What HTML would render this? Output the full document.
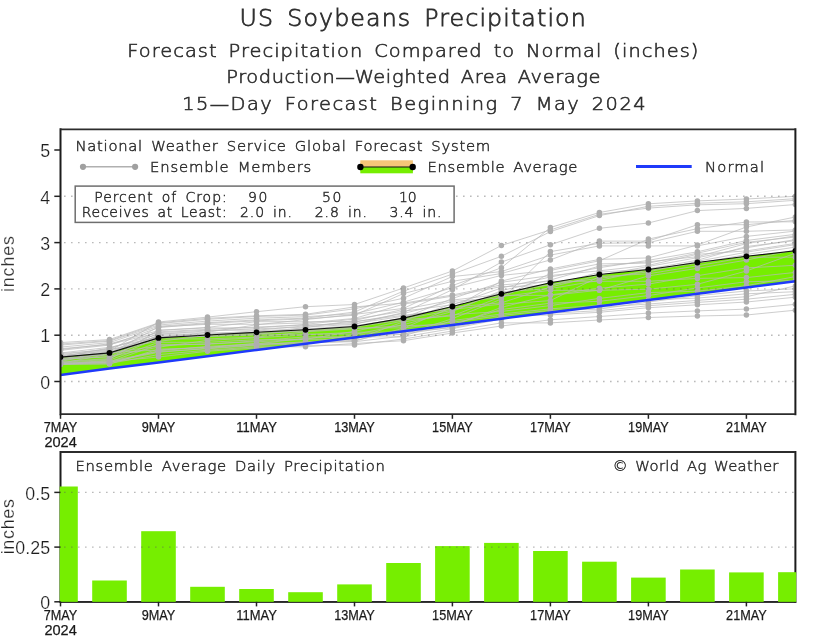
<!DOCTYPE html>
<html lang="en"><head><meta charset="utf-8"><title>US Soybeans Precipitation</title>
<style>html,body{margin:0;padding:0;background:#fff}svg{display:block}text{white-space:pre}</style></head>
<body>
<svg width="820" height="639" viewBox="0 0 820 639">
<rect width="820" height="639" fill="#fff"/>
<text transform="translate(239.6,26.3) scale(1.06,1)" font-family="'DejaVu Sans Light','DejaVu Sans','Liberation Sans',sans-serif" font-weight="200" font-size="22.4" text-anchor="start" fill="#2e2e2e" stroke="#2e2e2e" stroke-width="0.75" textLength="326.6" lengthAdjust="spacing" word-spacing="-2.02" xml:space="preserve">US  Soybeans  Precipitation</text>
<text transform="translate(127.3,56.7) scale(1.06,1)" font-family="'DejaVu Sans Light','DejaVu Sans','Liberation Sans',sans-serif" font-weight="200" font-size="18.3" text-anchor="start" fill="#2e2e2e" stroke="#2e2e2e" stroke-width="0.6" textLength="538.8" lengthAdjust="spacing" word-spacing="-1.65" xml:space="preserve">Forecast  Precipitation  Compared  to  Normal  (inches)</text>
<text transform="translate(226.2,83.4) scale(1.06,1)" font-family="'DejaVu Sans Light','DejaVu Sans','Liberation Sans',sans-serif" font-weight="200" font-size="18.3" text-anchor="start" fill="#2e2e2e" stroke="#2e2e2e" stroke-width="0.6" textLength="353.1" lengthAdjust="spacing" word-spacing="-1.65" xml:space="preserve">Production—Weighted  Area  Average</text>
<text transform="translate(182.2,109.8) scale(1.06,1)" font-family="'DejaVu Sans Light','DejaVu Sans','Liberation Sans',sans-serif" font-weight="200" font-size="18.3" text-anchor="start" fill="#2e2e2e" stroke="#2e2e2e" stroke-width="0.6" textLength="437.1" lengthAdjust="spacing" word-spacing="-1.65" xml:space="preserve">15—Day  Forecast  Beginning  7  May  2024</text>
<clipPath id="ct"><rect x="60.5" y="129.3" width="734.9" height="284.9"/></clipPath>
<g clip-path="url(#ct)">
<polygon points="60.5,357.1 109.5,352.9 158.5,337.9 207.5,335.0 256.5,332.3 305.5,329.8 354.5,326.5 403.5,318.1 452.4,306.5 501.4,293.8 550.4,282.8 599.4,274.5 648.4,269.5 697.4,262.5 746.4,256.3 795.4,250.8 795.4,281.3 746.4,287.5 697.4,293.7 648.4,300.0 599.4,306.2 550.4,312.5 501.4,318.7 452.4,324.9 403.5,331.2 354.5,337.4 305.5,343.7 256.5,349.9 207.5,356.2 158.5,362.4 109.5,368.6 60.5,374.9" fill="#76ee00"/>
<polyline points="60.5,362.5 109.5,359.3 158.5,330.1 207.5,327.9 256.5,327.9 305.5,324.3 354.5,319.1 403.5,311.2 452.4,304.8 501.4,288.0 550.4,277.0 599.4,267.7 648.4,260.3 697.4,251.8 746.4,240.5 795.4,234.3" fill="none" stroke="#b9b9b9" stroke-width="0.9" stroke-opacity="0.8"/>
<polyline points="60.5,364.1 109.5,362.6 158.5,350.8 207.5,346.4 256.5,343.9 305.5,338.2 354.5,337.0 403.5,334.3 452.4,318.7 501.4,299.1 550.4,251.6 599.4,243.3 648.4,242.7 697.4,231.3 746.4,231.3 795.4,229.9" fill="none" stroke="#b9b9b9" stroke-width="0.9" stroke-opacity="0.8"/>
<polyline points="60.5,363.8 109.5,362.0 158.5,344.4 207.5,344.4 256.5,340.8 305.5,336.9 354.5,336.9 403.5,336.9 452.4,328.6 501.4,319.1 550.4,312.0 599.4,307.3 648.4,304.0 697.4,300.4 746.4,296.7 795.4,285.9" fill="none" stroke="#b9b9b9" stroke-width="0.9" stroke-opacity="0.8"/>
<polyline points="60.5,349.5 109.5,343.8 158.5,330.6 207.5,327.3 256.5,321.7 305.5,321.7 354.5,321.5 403.5,315.3 452.4,309.3 501.4,304.2 550.4,300.6 599.4,276.6 648.4,273.8 697.4,265.8 746.4,257.2 795.4,257.2" fill="none" stroke="#b9b9b9" stroke-width="0.9" stroke-opacity="0.8"/>
<polyline points="60.5,364.0 109.5,360.1 158.5,342.3 207.5,342.3 256.5,339.7 305.5,339.7 354.5,339.6 403.5,321.8 452.4,314.7 501.4,311.4 550.4,305.6 599.4,298.4 648.4,292.6 697.4,291.2 746.4,285.7 795.4,276.6" fill="none" stroke="#b9b9b9" stroke-width="0.9" stroke-opacity="0.8"/>
<polyline points="60.5,361.3 109.5,352.5 158.5,350.0 207.5,347.1 256.5,344.4 305.5,342.5 354.5,341.7 403.5,336.0 452.4,320.6 501.4,314.0 550.4,308.8 599.4,305.3 648.4,299.9 697.4,298.1 746.4,293.8 795.4,291.7" fill="none" stroke="#b9b9b9" stroke-width="0.9" stroke-opacity="0.8"/>
<polyline points="60.5,348.7 109.5,344.5 158.5,332.6 207.5,330.2 256.5,330.2 305.5,325.8 354.5,322.2 403.5,313.5 452.4,301.4 501.4,297.8 550.4,273.4 599.4,263.9 648.4,263.1 697.4,253.2 746.4,242.3 795.4,237.0" fill="none" stroke="#b9b9b9" stroke-width="0.9" stroke-opacity="0.8"/>
<polyline points="60.5,361.7 109.5,358.5 158.5,338.1 207.5,332.2 256.5,324.8 305.5,319.6 354.5,314.4 403.5,308.4 452.4,285.6 501.4,267.8 550.4,227.5 599.4,212.5 648.4,203.8 697.4,200.9 746.4,199.0 795.4,196.3" fill="none" stroke="#b9b9b9" stroke-width="0.9" stroke-opacity="0.8"/>
<polyline points="60.5,360.0 109.5,352.9 158.5,345.9 207.5,343.7 256.5,341.8 305.5,339.3 354.5,331.3 403.5,320.8 452.4,303.7 501.4,295.4 550.4,295.4 599.4,290.2 648.4,275.9 697.4,268.4 746.4,260.1 795.4,250.0" fill="none" stroke="#b9b9b9" stroke-width="0.9" stroke-opacity="0.8"/>
<polyline points="60.5,358.2 109.5,354.7 158.5,338.9 207.5,338.9 256.5,337.1 305.5,331.8 354.5,328.8 403.5,325.7 452.4,324.5 501.4,309.5 550.4,303.2 599.4,301.3 648.4,295.6 697.4,287.9 746.4,281.8 795.4,280.5" fill="none" stroke="#b9b9b9" stroke-width="0.9" stroke-opacity="0.8"/>
<polyline points="60.5,355.5 109.5,351.1 158.5,322.0 207.5,317.1 256.5,311.7 305.5,306.7 354.5,304.5 403.5,288.0 452.4,271.0 501.4,245.5 550.4,229.9 599.4,214.3 648.4,208.1 697.4,204.8 746.4,203.7 795.4,200.3" fill="none" stroke="#b9b9b9" stroke-width="0.9" stroke-opacity="0.8"/>
<polyline points="60.5,364.1 109.5,362.3 158.5,352.3 207.5,348.3 256.5,344.9 305.5,341.7 354.5,340.4 403.5,329.8 452.4,325.6 501.4,307.4 550.4,294.9 599.4,288.2 648.4,284.1 697.4,275.7 746.4,267.9 795.4,265.3" fill="none" stroke="#b9b9b9" stroke-width="0.9" stroke-opacity="0.8"/>
<polyline points="60.5,357.0 109.5,347.9 158.5,334.3 207.5,330.9 256.5,328.8 305.5,327.1 354.5,324.3 403.5,312.5 452.4,289.7 501.4,262.1 550.4,244.8 599.4,228.3 648.4,223.0 697.4,210.6 746.4,208.4 795.4,204.5" fill="none" stroke="#b9b9b9" stroke-width="0.9" stroke-opacity="0.8"/>
<polyline points="60.5,345.1 109.5,341.2 158.5,325.0 207.5,321.1 256.5,318.2 305.5,316.7 354.5,313.7 403.5,302.2 452.4,287.7 501.4,275.4 550.4,270.4 599.4,260.8 648.4,239.1 697.4,228.7 746.4,222.0 795.4,221.8" fill="none" stroke="#b9b9b9" stroke-width="0.9" stroke-opacity="0.8"/>
<polyline points="60.5,364.3 109.5,364.1 158.5,349.1 207.5,347.7 256.5,343.2 305.5,343.1 354.5,341.1 403.5,328.2 452.4,307.2 501.4,302.8 550.4,287.0 599.4,275.3 648.4,266.5 697.4,257.7 746.4,247.8 795.4,239.5" fill="none" stroke="#b9b9b9" stroke-width="0.9" stroke-opacity="0.8"/>
<polyline points="60.5,347.1 109.5,342.6 158.5,326.3 207.5,322.7 256.5,319.9 305.5,318.2 354.5,312.0 403.5,291.1 452.4,274.1 501.4,256.3 550.4,231.6 599.4,215.6 648.4,206.3 697.4,203.2 746.4,201.8 795.4,198.7" fill="none" stroke="#b9b9b9" stroke-width="0.9" stroke-opacity="0.8"/>
<polyline points="60.5,359.6 109.5,356.4 158.5,347.2 207.5,340.4 256.5,337.8 305.5,334.9 354.5,332.2 403.5,332.2 452.4,327.7 501.4,317.8 550.4,313.2 599.4,310.7 648.4,305.7 697.4,302.4 746.4,299.2 795.4,294.3" fill="none" stroke="#b9b9b9" stroke-width="0.9" stroke-opacity="0.8"/>
<polyline points="60.5,363.3 109.5,354.1 158.5,333.2 207.5,332.8 256.5,332.8 305.5,327.6 354.5,320.5 403.5,309.3 452.4,300.1 501.4,294.3 550.4,284.3 599.4,278.4 648.4,271.8 697.4,261.3 746.4,252.2 795.4,244.6" fill="none" stroke="#b9b9b9" stroke-width="0.9" stroke-opacity="0.8"/>
<polyline points="60.5,342.6 109.5,339.5 158.5,322.9 207.5,318.3 256.5,315.8 305.5,314.3 354.5,306.9 403.5,303.2 452.4,295.0 501.4,284.9 550.4,281.3 599.4,281.3 648.4,281.3 697.4,278.4 746.4,277.6 795.4,272.4" fill="none" stroke="#b9b9b9" stroke-width="0.9" stroke-opacity="0.8"/>
<polyline points="60.5,353.0 109.5,347.3 158.5,337.3 207.5,336.2 256.5,334.2 305.5,330.2 354.5,327.1 403.5,319.8 452.4,315.9 501.4,296.6 550.4,290.3 599.4,290.3 648.4,289.2 697.4,284.3 746.4,271.0 795.4,253.2" fill="none" stroke="#b9b9b9" stroke-width="0.9" stroke-opacity="0.8"/>
<polyline points="60.5,364.4 109.5,363.5 158.5,354.6 207.5,350.2 256.5,346.8 305.5,346.8 354.5,343.5 403.5,340.7 452.4,333.0 501.4,326.0 550.4,319.8 599.4,316.5 648.4,313.1 697.4,310.9 746.4,309.1 795.4,304.3" fill="none" stroke="#b9b9b9" stroke-width="0.9" stroke-opacity="0.8"/>
<polyline points="60.5,357.4 109.5,351.6 158.5,336.0 207.5,334.6 256.5,332.2 305.5,329.5 354.5,326.3 403.5,318.1 452.4,298.5 501.4,282.3 550.4,275.5 599.4,270.8 648.4,265.4 697.4,254.3 746.4,250.9 795.4,243.4" fill="none" stroke="#b9b9b9" stroke-width="0.9" stroke-opacity="0.8"/>
<polyline points="60.5,353.6 109.5,349.6 158.5,341.4 207.5,335.4 256.5,333.5 305.5,331.0 354.5,327.9 403.5,327.9 452.4,322.2 501.4,315.4 550.4,310.4 599.4,309.1 648.4,302.0 697.4,295.7 746.4,291.0 795.4,288.8" fill="none" stroke="#b9b9b9" stroke-width="0.9" stroke-opacity="0.8"/>
<polyline points="60.5,359.1 109.5,357.0 158.5,334.9 207.5,334.1 256.5,330.8 305.5,328.9 354.5,325.7 403.5,318.9 452.4,310.4 501.4,291.7 550.4,288.6 599.4,280.4 648.4,270.0 697.4,263.4 746.4,254.5 795.4,247.1" fill="none" stroke="#b9b9b9" stroke-width="0.9" stroke-opacity="0.8"/>
<polyline points="60.5,350.3 109.5,345.1 158.5,327.6 207.5,323.5 256.5,320.8 305.5,318.9 354.5,315.2 403.5,293.5 452.4,281.3 501.4,273.5 550.4,259.9 599.4,241.1 648.4,241.1 697.4,224.7 746.4,224.7 795.4,220.3" fill="none" stroke="#b9b9b9" stroke-width="0.9" stroke-opacity="0.8"/>
<polyline points="60.5,358.6 109.5,353.5 158.5,326.9 207.5,324.3 256.5,324.3 305.5,323.0 354.5,318.4 403.5,304.2 452.4,296.1 501.4,286.6 550.4,285.6 599.4,272.2 648.4,269.0 697.4,260.2 746.4,246.5 795.4,240.6" fill="none" stroke="#b9b9b9" stroke-width="0.9" stroke-opacity="0.8"/>
<polyline points="60.5,356.0 109.5,350.1 158.5,336.5 207.5,336.5 256.5,335.0 305.5,334.1 354.5,334.1 403.5,334.1 452.4,326.8 501.4,316.7 550.4,314.9 599.4,312.3 648.4,307.7 697.4,304.8 746.4,302.0 795.4,297.2" fill="none" stroke="#b9b9b9" stroke-width="0.9" stroke-opacity="0.8"/>
<polyline points="60.5,344.0 109.5,340.5 158.5,323.6 207.5,319.3 256.5,316.5 305.5,315.1 354.5,308.8 403.5,298.2 452.4,276.5 501.4,271.6 550.4,255.1 599.4,245.9 648.4,245.9 697.4,245.9 746.4,236.4 795.4,231.1" fill="none" stroke="#b9b9b9" stroke-width="0.9" stroke-opacity="0.8"/>
<polyline points="60.5,362.9 109.5,361.1 158.5,351.6 207.5,348.8 256.5,345.4 305.5,343.8 354.5,334.4 403.5,324.7 452.4,311.5 501.4,290.5 550.4,280.0 599.4,266.1 648.4,261.8 697.4,256.7 746.4,243.6 795.4,235.8" fill="none" stroke="#b9b9b9" stroke-width="0.9" stroke-opacity="0.8"/>
<polyline points="60.5,354.7 109.5,348.9 158.5,331.8 207.5,329.3 256.5,327.0 305.5,325.1 354.5,323.6 403.5,316.2 452.4,308.2 501.4,281.1 550.4,269.0 599.4,259.4 648.4,257.9 697.4,245.0 746.4,227.0 795.4,217.0" fill="none" stroke="#b9b9b9" stroke-width="0.9" stroke-opacity="0.8"/>
<polyline points="60.5,363.7 109.5,361.6 158.5,357.0 207.5,351.2 256.5,348.0 305.5,345.4 354.5,345.0 403.5,339.0 452.4,331.0 501.4,322.9 550.4,322.9 599.4,320.0 648.4,317.5 697.4,316.0 746.4,315.0 795.4,310.2" fill="none" stroke="#b9b9b9" stroke-width="0.9" stroke-opacity="0.8"/>
<circle cx="60.5" cy="362.5" r="2.75" fill="#afafaf"/>
<circle cx="109.5" cy="359.3" r="2.75" fill="#afafaf"/>
<circle cx="158.5" cy="330.1" r="2.75" fill="#afafaf"/>
<circle cx="207.5" cy="327.9" r="2.75" fill="#afafaf"/>
<circle cx="256.5" cy="327.9" r="2.75" fill="#afafaf"/>
<circle cx="305.5" cy="324.3" r="2.75" fill="#afafaf"/>
<circle cx="354.5" cy="319.1" r="2.75" fill="#afafaf"/>
<circle cx="403.5" cy="311.2" r="2.75" fill="#afafaf"/>
<circle cx="452.4" cy="304.8" r="2.75" fill="#afafaf"/>
<circle cx="501.4" cy="288.0" r="2.75" fill="#afafaf"/>
<circle cx="550.4" cy="277.0" r="2.75" fill="#afafaf"/>
<circle cx="599.4" cy="267.7" r="2.75" fill="#afafaf"/>
<circle cx="648.4" cy="260.3" r="2.75" fill="#afafaf"/>
<circle cx="697.4" cy="251.8" r="2.75" fill="#afafaf"/>
<circle cx="746.4" cy="240.5" r="2.75" fill="#afafaf"/>
<circle cx="795.4" cy="234.3" r="2.75" fill="#afafaf"/>
<circle cx="60.5" cy="364.1" r="2.75" fill="#afafaf"/>
<circle cx="109.5" cy="362.6" r="2.75" fill="#afafaf"/>
<circle cx="158.5" cy="350.8" r="2.75" fill="#afafaf"/>
<circle cx="207.5" cy="346.4" r="2.75" fill="#afafaf"/>
<circle cx="256.5" cy="343.9" r="2.75" fill="#afafaf"/>
<circle cx="305.5" cy="338.2" r="2.75" fill="#afafaf"/>
<circle cx="354.5" cy="337.0" r="2.75" fill="#afafaf"/>
<circle cx="403.5" cy="334.3" r="2.75" fill="#afafaf"/>
<circle cx="452.4" cy="318.7" r="2.75" fill="#afafaf"/>
<circle cx="501.4" cy="299.1" r="2.75" fill="#afafaf"/>
<circle cx="550.4" cy="251.6" r="2.75" fill="#afafaf"/>
<circle cx="599.4" cy="243.3" r="2.75" fill="#afafaf"/>
<circle cx="648.4" cy="242.7" r="2.75" fill="#afafaf"/>
<circle cx="697.4" cy="231.3" r="2.75" fill="#afafaf"/>
<circle cx="746.4" cy="231.3" r="2.75" fill="#afafaf"/>
<circle cx="795.4" cy="229.9" r="2.75" fill="#afafaf"/>
<circle cx="60.5" cy="363.8" r="2.75" fill="#afafaf"/>
<circle cx="109.5" cy="362.0" r="2.75" fill="#afafaf"/>
<circle cx="158.5" cy="344.4" r="2.75" fill="#afafaf"/>
<circle cx="207.5" cy="344.4" r="2.75" fill="#afafaf"/>
<circle cx="256.5" cy="340.8" r="2.75" fill="#afafaf"/>
<circle cx="305.5" cy="336.9" r="2.75" fill="#afafaf"/>
<circle cx="354.5" cy="336.9" r="2.75" fill="#afafaf"/>
<circle cx="403.5" cy="336.9" r="2.75" fill="#afafaf"/>
<circle cx="452.4" cy="328.6" r="2.75" fill="#afafaf"/>
<circle cx="501.4" cy="319.1" r="2.75" fill="#afafaf"/>
<circle cx="550.4" cy="312.0" r="2.75" fill="#afafaf"/>
<circle cx="599.4" cy="307.3" r="2.75" fill="#afafaf"/>
<circle cx="648.4" cy="304.0" r="2.75" fill="#afafaf"/>
<circle cx="697.4" cy="300.4" r="2.75" fill="#afafaf"/>
<circle cx="746.4" cy="296.7" r="2.75" fill="#afafaf"/>
<circle cx="795.4" cy="285.9" r="2.75" fill="#afafaf"/>
<circle cx="60.5" cy="349.5" r="2.75" fill="#afafaf"/>
<circle cx="109.5" cy="343.8" r="2.75" fill="#afafaf"/>
<circle cx="158.5" cy="330.6" r="2.75" fill="#afafaf"/>
<circle cx="207.5" cy="327.3" r="2.75" fill="#afafaf"/>
<circle cx="256.5" cy="321.7" r="2.75" fill="#afafaf"/>
<circle cx="305.5" cy="321.7" r="2.75" fill="#afafaf"/>
<circle cx="354.5" cy="321.5" r="2.75" fill="#afafaf"/>
<circle cx="403.5" cy="315.3" r="2.75" fill="#afafaf"/>
<circle cx="452.4" cy="309.3" r="2.75" fill="#afafaf"/>
<circle cx="501.4" cy="304.2" r="2.75" fill="#afafaf"/>
<circle cx="550.4" cy="300.6" r="2.75" fill="#afafaf"/>
<circle cx="599.4" cy="276.6" r="2.75" fill="#afafaf"/>
<circle cx="648.4" cy="273.8" r="2.75" fill="#afafaf"/>
<circle cx="697.4" cy="265.8" r="2.75" fill="#afafaf"/>
<circle cx="746.4" cy="257.2" r="2.75" fill="#afafaf"/>
<circle cx="795.4" cy="257.2" r="2.75" fill="#afafaf"/>
<circle cx="60.5" cy="364.0" r="2.75" fill="#afafaf"/>
<circle cx="109.5" cy="360.1" r="2.75" fill="#afafaf"/>
<circle cx="158.5" cy="342.3" r="2.75" fill="#afafaf"/>
<circle cx="207.5" cy="342.3" r="2.75" fill="#afafaf"/>
<circle cx="256.5" cy="339.7" r="2.75" fill="#afafaf"/>
<circle cx="305.5" cy="339.7" r="2.75" fill="#afafaf"/>
<circle cx="354.5" cy="339.6" r="2.75" fill="#afafaf"/>
<circle cx="403.5" cy="321.8" r="2.75" fill="#afafaf"/>
<circle cx="452.4" cy="314.7" r="2.75" fill="#afafaf"/>
<circle cx="501.4" cy="311.4" r="2.75" fill="#afafaf"/>
<circle cx="550.4" cy="305.6" r="2.75" fill="#afafaf"/>
<circle cx="599.4" cy="298.4" r="2.75" fill="#afafaf"/>
<circle cx="648.4" cy="292.6" r="2.75" fill="#afafaf"/>
<circle cx="697.4" cy="291.2" r="2.75" fill="#afafaf"/>
<circle cx="746.4" cy="285.7" r="2.75" fill="#afafaf"/>
<circle cx="795.4" cy="276.6" r="2.75" fill="#afafaf"/>
<circle cx="60.5" cy="361.3" r="2.75" fill="#afafaf"/>
<circle cx="109.5" cy="352.5" r="2.75" fill="#afafaf"/>
<circle cx="158.5" cy="350.0" r="2.75" fill="#afafaf"/>
<circle cx="207.5" cy="347.1" r="2.75" fill="#afafaf"/>
<circle cx="256.5" cy="344.4" r="2.75" fill="#afafaf"/>
<circle cx="305.5" cy="342.5" r="2.75" fill="#afafaf"/>
<circle cx="354.5" cy="341.7" r="2.75" fill="#afafaf"/>
<circle cx="403.5" cy="336.0" r="2.75" fill="#afafaf"/>
<circle cx="452.4" cy="320.6" r="2.75" fill="#afafaf"/>
<circle cx="501.4" cy="314.0" r="2.75" fill="#afafaf"/>
<circle cx="550.4" cy="308.8" r="2.75" fill="#afafaf"/>
<circle cx="599.4" cy="305.3" r="2.75" fill="#afafaf"/>
<circle cx="648.4" cy="299.9" r="2.75" fill="#afafaf"/>
<circle cx="697.4" cy="298.1" r="2.75" fill="#afafaf"/>
<circle cx="746.4" cy="293.8" r="2.75" fill="#afafaf"/>
<circle cx="795.4" cy="291.7" r="2.75" fill="#afafaf"/>
<circle cx="60.5" cy="348.7" r="2.75" fill="#afafaf"/>
<circle cx="109.5" cy="344.5" r="2.75" fill="#afafaf"/>
<circle cx="158.5" cy="332.6" r="2.75" fill="#afafaf"/>
<circle cx="207.5" cy="330.2" r="2.75" fill="#afafaf"/>
<circle cx="256.5" cy="330.2" r="2.75" fill="#afafaf"/>
<circle cx="305.5" cy="325.8" r="2.75" fill="#afafaf"/>
<circle cx="354.5" cy="322.2" r="2.75" fill="#afafaf"/>
<circle cx="403.5" cy="313.5" r="2.75" fill="#afafaf"/>
<circle cx="452.4" cy="301.4" r="2.75" fill="#afafaf"/>
<circle cx="501.4" cy="297.8" r="2.75" fill="#afafaf"/>
<circle cx="550.4" cy="273.4" r="2.75" fill="#afafaf"/>
<circle cx="599.4" cy="263.9" r="2.75" fill="#afafaf"/>
<circle cx="648.4" cy="263.1" r="2.75" fill="#afafaf"/>
<circle cx="697.4" cy="253.2" r="2.75" fill="#afafaf"/>
<circle cx="746.4" cy="242.3" r="2.75" fill="#afafaf"/>
<circle cx="795.4" cy="237.0" r="2.75" fill="#afafaf"/>
<circle cx="60.5" cy="361.7" r="2.75" fill="#afafaf"/>
<circle cx="109.5" cy="358.5" r="2.75" fill="#afafaf"/>
<circle cx="158.5" cy="338.1" r="2.75" fill="#afafaf"/>
<circle cx="207.5" cy="332.2" r="2.75" fill="#afafaf"/>
<circle cx="256.5" cy="324.8" r="2.75" fill="#afafaf"/>
<circle cx="305.5" cy="319.6" r="2.75" fill="#afafaf"/>
<circle cx="354.5" cy="314.4" r="2.75" fill="#afafaf"/>
<circle cx="403.5" cy="308.4" r="2.75" fill="#afafaf"/>
<circle cx="452.4" cy="285.6" r="2.75" fill="#afafaf"/>
<circle cx="501.4" cy="267.8" r="2.75" fill="#afafaf"/>
<circle cx="550.4" cy="227.5" r="2.75" fill="#afafaf"/>
<circle cx="599.4" cy="212.5" r="2.75" fill="#afafaf"/>
<circle cx="648.4" cy="203.8" r="2.75" fill="#afafaf"/>
<circle cx="697.4" cy="200.9" r="2.75" fill="#afafaf"/>
<circle cx="746.4" cy="199.0" r="2.75" fill="#afafaf"/>
<circle cx="795.4" cy="196.3" r="2.75" fill="#afafaf"/>
<circle cx="60.5" cy="360.0" r="2.75" fill="#afafaf"/>
<circle cx="109.5" cy="352.9" r="2.75" fill="#afafaf"/>
<circle cx="158.5" cy="345.9" r="2.75" fill="#afafaf"/>
<circle cx="207.5" cy="343.7" r="2.75" fill="#afafaf"/>
<circle cx="256.5" cy="341.8" r="2.75" fill="#afafaf"/>
<circle cx="305.5" cy="339.3" r="2.75" fill="#afafaf"/>
<circle cx="354.5" cy="331.3" r="2.75" fill="#afafaf"/>
<circle cx="403.5" cy="320.8" r="2.75" fill="#afafaf"/>
<circle cx="452.4" cy="303.7" r="2.75" fill="#afafaf"/>
<circle cx="501.4" cy="295.4" r="2.75" fill="#afafaf"/>
<circle cx="550.4" cy="295.4" r="2.75" fill="#afafaf"/>
<circle cx="599.4" cy="290.2" r="2.75" fill="#afafaf"/>
<circle cx="648.4" cy="275.9" r="2.75" fill="#afafaf"/>
<circle cx="697.4" cy="268.4" r="2.75" fill="#afafaf"/>
<circle cx="746.4" cy="260.1" r="2.75" fill="#afafaf"/>
<circle cx="795.4" cy="250.0" r="2.75" fill="#afafaf"/>
<circle cx="60.5" cy="358.2" r="2.75" fill="#afafaf"/>
<circle cx="109.5" cy="354.7" r="2.75" fill="#afafaf"/>
<circle cx="158.5" cy="338.9" r="2.75" fill="#afafaf"/>
<circle cx="207.5" cy="338.9" r="2.75" fill="#afafaf"/>
<circle cx="256.5" cy="337.1" r="2.75" fill="#afafaf"/>
<circle cx="305.5" cy="331.8" r="2.75" fill="#afafaf"/>
<circle cx="354.5" cy="328.8" r="2.75" fill="#afafaf"/>
<circle cx="403.5" cy="325.7" r="2.75" fill="#afafaf"/>
<circle cx="452.4" cy="324.5" r="2.75" fill="#afafaf"/>
<circle cx="501.4" cy="309.5" r="2.75" fill="#afafaf"/>
<circle cx="550.4" cy="303.2" r="2.75" fill="#afafaf"/>
<circle cx="599.4" cy="301.3" r="2.75" fill="#afafaf"/>
<circle cx="648.4" cy="295.6" r="2.75" fill="#afafaf"/>
<circle cx="697.4" cy="287.9" r="2.75" fill="#afafaf"/>
<circle cx="746.4" cy="281.8" r="2.75" fill="#afafaf"/>
<circle cx="795.4" cy="280.5" r="2.75" fill="#afafaf"/>
<circle cx="60.5" cy="355.5" r="2.75" fill="#afafaf"/>
<circle cx="109.5" cy="351.1" r="2.75" fill="#afafaf"/>
<circle cx="158.5" cy="322.0" r="2.75" fill="#afafaf"/>
<circle cx="207.5" cy="317.1" r="2.75" fill="#afafaf"/>
<circle cx="256.5" cy="311.7" r="2.75" fill="#afafaf"/>
<circle cx="305.5" cy="306.7" r="2.75" fill="#afafaf"/>
<circle cx="354.5" cy="304.5" r="2.75" fill="#afafaf"/>
<circle cx="403.5" cy="288.0" r="2.75" fill="#afafaf"/>
<circle cx="452.4" cy="271.0" r="2.75" fill="#afafaf"/>
<circle cx="501.4" cy="245.5" r="2.75" fill="#afafaf"/>
<circle cx="550.4" cy="229.9" r="2.75" fill="#afafaf"/>
<circle cx="599.4" cy="214.3" r="2.75" fill="#afafaf"/>
<circle cx="648.4" cy="208.1" r="2.75" fill="#afafaf"/>
<circle cx="697.4" cy="204.8" r="2.75" fill="#afafaf"/>
<circle cx="746.4" cy="203.7" r="2.75" fill="#afafaf"/>
<circle cx="795.4" cy="200.3" r="2.75" fill="#afafaf"/>
<circle cx="60.5" cy="364.1" r="2.75" fill="#afafaf"/>
<circle cx="109.5" cy="362.3" r="2.75" fill="#afafaf"/>
<circle cx="158.5" cy="352.3" r="2.75" fill="#afafaf"/>
<circle cx="207.5" cy="348.3" r="2.75" fill="#afafaf"/>
<circle cx="256.5" cy="344.9" r="2.75" fill="#afafaf"/>
<circle cx="305.5" cy="341.7" r="2.75" fill="#afafaf"/>
<circle cx="354.5" cy="340.4" r="2.75" fill="#afafaf"/>
<circle cx="403.5" cy="329.8" r="2.75" fill="#afafaf"/>
<circle cx="452.4" cy="325.6" r="2.75" fill="#afafaf"/>
<circle cx="501.4" cy="307.4" r="2.75" fill="#afafaf"/>
<circle cx="550.4" cy="294.9" r="2.75" fill="#afafaf"/>
<circle cx="599.4" cy="288.2" r="2.75" fill="#afafaf"/>
<circle cx="648.4" cy="284.1" r="2.75" fill="#afafaf"/>
<circle cx="697.4" cy="275.7" r="2.75" fill="#afafaf"/>
<circle cx="746.4" cy="267.9" r="2.75" fill="#afafaf"/>
<circle cx="795.4" cy="265.3" r="2.75" fill="#afafaf"/>
<circle cx="60.5" cy="357.0" r="2.75" fill="#afafaf"/>
<circle cx="109.5" cy="347.9" r="2.75" fill="#afafaf"/>
<circle cx="158.5" cy="334.3" r="2.75" fill="#afafaf"/>
<circle cx="207.5" cy="330.9" r="2.75" fill="#afafaf"/>
<circle cx="256.5" cy="328.8" r="2.75" fill="#afafaf"/>
<circle cx="305.5" cy="327.1" r="2.75" fill="#afafaf"/>
<circle cx="354.5" cy="324.3" r="2.75" fill="#afafaf"/>
<circle cx="403.5" cy="312.5" r="2.75" fill="#afafaf"/>
<circle cx="452.4" cy="289.7" r="2.75" fill="#afafaf"/>
<circle cx="501.4" cy="262.1" r="2.75" fill="#afafaf"/>
<circle cx="550.4" cy="244.8" r="2.75" fill="#afafaf"/>
<circle cx="599.4" cy="228.3" r="2.75" fill="#afafaf"/>
<circle cx="648.4" cy="223.0" r="2.75" fill="#afafaf"/>
<circle cx="697.4" cy="210.6" r="2.75" fill="#afafaf"/>
<circle cx="746.4" cy="208.4" r="2.75" fill="#afafaf"/>
<circle cx="795.4" cy="204.5" r="2.75" fill="#afafaf"/>
<circle cx="60.5" cy="345.1" r="2.75" fill="#afafaf"/>
<circle cx="109.5" cy="341.2" r="2.75" fill="#afafaf"/>
<circle cx="158.5" cy="325.0" r="2.75" fill="#afafaf"/>
<circle cx="207.5" cy="321.1" r="2.75" fill="#afafaf"/>
<circle cx="256.5" cy="318.2" r="2.75" fill="#afafaf"/>
<circle cx="305.5" cy="316.7" r="2.75" fill="#afafaf"/>
<circle cx="354.5" cy="313.7" r="2.75" fill="#afafaf"/>
<circle cx="403.5" cy="302.2" r="2.75" fill="#afafaf"/>
<circle cx="452.4" cy="287.7" r="2.75" fill="#afafaf"/>
<circle cx="501.4" cy="275.4" r="2.75" fill="#afafaf"/>
<circle cx="550.4" cy="270.4" r="2.75" fill="#afafaf"/>
<circle cx="599.4" cy="260.8" r="2.75" fill="#afafaf"/>
<circle cx="648.4" cy="239.1" r="2.75" fill="#afafaf"/>
<circle cx="697.4" cy="228.7" r="2.75" fill="#afafaf"/>
<circle cx="746.4" cy="222.0" r="2.75" fill="#afafaf"/>
<circle cx="795.4" cy="221.8" r="2.75" fill="#afafaf"/>
<circle cx="60.5" cy="364.3" r="2.75" fill="#afafaf"/>
<circle cx="109.5" cy="364.1" r="2.75" fill="#afafaf"/>
<circle cx="158.5" cy="349.1" r="2.75" fill="#afafaf"/>
<circle cx="207.5" cy="347.7" r="2.75" fill="#afafaf"/>
<circle cx="256.5" cy="343.2" r="2.75" fill="#afafaf"/>
<circle cx="305.5" cy="343.1" r="2.75" fill="#afafaf"/>
<circle cx="354.5" cy="341.1" r="2.75" fill="#afafaf"/>
<circle cx="403.5" cy="328.2" r="2.75" fill="#afafaf"/>
<circle cx="452.4" cy="307.2" r="2.75" fill="#afafaf"/>
<circle cx="501.4" cy="302.8" r="2.75" fill="#afafaf"/>
<circle cx="550.4" cy="287.0" r="2.75" fill="#afafaf"/>
<circle cx="599.4" cy="275.3" r="2.75" fill="#afafaf"/>
<circle cx="648.4" cy="266.5" r="2.75" fill="#afafaf"/>
<circle cx="697.4" cy="257.7" r="2.75" fill="#afafaf"/>
<circle cx="746.4" cy="247.8" r="2.75" fill="#afafaf"/>
<circle cx="795.4" cy="239.5" r="2.75" fill="#afafaf"/>
<circle cx="60.5" cy="347.1" r="2.75" fill="#afafaf"/>
<circle cx="109.5" cy="342.6" r="2.75" fill="#afafaf"/>
<circle cx="158.5" cy="326.3" r="2.75" fill="#afafaf"/>
<circle cx="207.5" cy="322.7" r="2.75" fill="#afafaf"/>
<circle cx="256.5" cy="319.9" r="2.75" fill="#afafaf"/>
<circle cx="305.5" cy="318.2" r="2.75" fill="#afafaf"/>
<circle cx="354.5" cy="312.0" r="2.75" fill="#afafaf"/>
<circle cx="403.5" cy="291.1" r="2.75" fill="#afafaf"/>
<circle cx="452.4" cy="274.1" r="2.75" fill="#afafaf"/>
<circle cx="501.4" cy="256.3" r="2.75" fill="#afafaf"/>
<circle cx="550.4" cy="231.6" r="2.75" fill="#afafaf"/>
<circle cx="599.4" cy="215.6" r="2.75" fill="#afafaf"/>
<circle cx="648.4" cy="206.3" r="2.75" fill="#afafaf"/>
<circle cx="697.4" cy="203.2" r="2.75" fill="#afafaf"/>
<circle cx="746.4" cy="201.8" r="2.75" fill="#afafaf"/>
<circle cx="795.4" cy="198.7" r="2.75" fill="#afafaf"/>
<circle cx="60.5" cy="359.6" r="2.75" fill="#afafaf"/>
<circle cx="109.5" cy="356.4" r="2.75" fill="#afafaf"/>
<circle cx="158.5" cy="347.2" r="2.75" fill="#afafaf"/>
<circle cx="207.5" cy="340.4" r="2.75" fill="#afafaf"/>
<circle cx="256.5" cy="337.8" r="2.75" fill="#afafaf"/>
<circle cx="305.5" cy="334.9" r="2.75" fill="#afafaf"/>
<circle cx="354.5" cy="332.2" r="2.75" fill="#afafaf"/>
<circle cx="403.5" cy="332.2" r="2.75" fill="#afafaf"/>
<circle cx="452.4" cy="327.7" r="2.75" fill="#afafaf"/>
<circle cx="501.4" cy="317.8" r="2.75" fill="#afafaf"/>
<circle cx="550.4" cy="313.2" r="2.75" fill="#afafaf"/>
<circle cx="599.4" cy="310.7" r="2.75" fill="#afafaf"/>
<circle cx="648.4" cy="305.7" r="2.75" fill="#afafaf"/>
<circle cx="697.4" cy="302.4" r="2.75" fill="#afafaf"/>
<circle cx="746.4" cy="299.2" r="2.75" fill="#afafaf"/>
<circle cx="795.4" cy="294.3" r="2.75" fill="#afafaf"/>
<circle cx="60.5" cy="363.3" r="2.75" fill="#afafaf"/>
<circle cx="109.5" cy="354.1" r="2.75" fill="#afafaf"/>
<circle cx="158.5" cy="333.2" r="2.75" fill="#afafaf"/>
<circle cx="207.5" cy="332.8" r="2.75" fill="#afafaf"/>
<circle cx="256.5" cy="332.8" r="2.75" fill="#afafaf"/>
<circle cx="305.5" cy="327.6" r="2.75" fill="#afafaf"/>
<circle cx="354.5" cy="320.5" r="2.75" fill="#afafaf"/>
<circle cx="403.5" cy="309.3" r="2.75" fill="#afafaf"/>
<circle cx="452.4" cy="300.1" r="2.75" fill="#afafaf"/>
<circle cx="501.4" cy="294.3" r="2.75" fill="#afafaf"/>
<circle cx="550.4" cy="284.3" r="2.75" fill="#afafaf"/>
<circle cx="599.4" cy="278.4" r="2.75" fill="#afafaf"/>
<circle cx="648.4" cy="271.8" r="2.75" fill="#afafaf"/>
<circle cx="697.4" cy="261.3" r="2.75" fill="#afafaf"/>
<circle cx="746.4" cy="252.2" r="2.75" fill="#afafaf"/>
<circle cx="795.4" cy="244.6" r="2.75" fill="#afafaf"/>
<circle cx="60.5" cy="342.6" r="2.75" fill="#afafaf"/>
<circle cx="109.5" cy="339.5" r="2.75" fill="#afafaf"/>
<circle cx="158.5" cy="322.9" r="2.75" fill="#afafaf"/>
<circle cx="207.5" cy="318.3" r="2.75" fill="#afafaf"/>
<circle cx="256.5" cy="315.8" r="2.75" fill="#afafaf"/>
<circle cx="305.5" cy="314.3" r="2.75" fill="#afafaf"/>
<circle cx="354.5" cy="306.9" r="2.75" fill="#afafaf"/>
<circle cx="403.5" cy="303.2" r="2.75" fill="#afafaf"/>
<circle cx="452.4" cy="295.0" r="2.75" fill="#afafaf"/>
<circle cx="501.4" cy="284.9" r="2.75" fill="#afafaf"/>
<circle cx="550.4" cy="281.3" r="2.75" fill="#afafaf"/>
<circle cx="599.4" cy="281.3" r="2.75" fill="#afafaf"/>
<circle cx="648.4" cy="281.3" r="2.75" fill="#afafaf"/>
<circle cx="697.4" cy="278.4" r="2.75" fill="#afafaf"/>
<circle cx="746.4" cy="277.6" r="2.75" fill="#afafaf"/>
<circle cx="795.4" cy="272.4" r="2.75" fill="#afafaf"/>
<circle cx="60.5" cy="353.0" r="2.75" fill="#afafaf"/>
<circle cx="109.5" cy="347.3" r="2.75" fill="#afafaf"/>
<circle cx="158.5" cy="337.3" r="2.75" fill="#afafaf"/>
<circle cx="207.5" cy="336.2" r="2.75" fill="#afafaf"/>
<circle cx="256.5" cy="334.2" r="2.75" fill="#afafaf"/>
<circle cx="305.5" cy="330.2" r="2.75" fill="#afafaf"/>
<circle cx="354.5" cy="327.1" r="2.75" fill="#afafaf"/>
<circle cx="403.5" cy="319.8" r="2.75" fill="#afafaf"/>
<circle cx="452.4" cy="315.9" r="2.75" fill="#afafaf"/>
<circle cx="501.4" cy="296.6" r="2.75" fill="#afafaf"/>
<circle cx="550.4" cy="290.3" r="2.75" fill="#afafaf"/>
<circle cx="599.4" cy="290.3" r="2.75" fill="#afafaf"/>
<circle cx="648.4" cy="289.2" r="2.75" fill="#afafaf"/>
<circle cx="697.4" cy="284.3" r="2.75" fill="#afafaf"/>
<circle cx="746.4" cy="271.0" r="2.75" fill="#afafaf"/>
<circle cx="795.4" cy="253.2" r="2.75" fill="#afafaf"/>
<circle cx="60.5" cy="364.4" r="2.75" fill="#afafaf"/>
<circle cx="109.5" cy="363.5" r="2.75" fill="#afafaf"/>
<circle cx="158.5" cy="354.6" r="2.75" fill="#afafaf"/>
<circle cx="207.5" cy="350.2" r="2.75" fill="#afafaf"/>
<circle cx="256.5" cy="346.8" r="2.75" fill="#afafaf"/>
<circle cx="305.5" cy="346.8" r="2.75" fill="#afafaf"/>
<circle cx="354.5" cy="343.5" r="2.75" fill="#afafaf"/>
<circle cx="403.5" cy="340.7" r="2.75" fill="#afafaf"/>
<circle cx="452.4" cy="333.0" r="2.75" fill="#afafaf"/>
<circle cx="501.4" cy="326.0" r="2.75" fill="#afafaf"/>
<circle cx="550.4" cy="319.8" r="2.75" fill="#afafaf"/>
<circle cx="599.4" cy="316.5" r="2.75" fill="#afafaf"/>
<circle cx="648.4" cy="313.1" r="2.75" fill="#afafaf"/>
<circle cx="697.4" cy="310.9" r="2.75" fill="#afafaf"/>
<circle cx="746.4" cy="309.1" r="2.75" fill="#afafaf"/>
<circle cx="795.4" cy="304.3" r="2.75" fill="#afafaf"/>
<circle cx="60.5" cy="357.4" r="2.75" fill="#afafaf"/>
<circle cx="109.5" cy="351.6" r="2.75" fill="#afafaf"/>
<circle cx="158.5" cy="336.0" r="2.75" fill="#afafaf"/>
<circle cx="207.5" cy="334.6" r="2.75" fill="#afafaf"/>
<circle cx="256.5" cy="332.2" r="2.75" fill="#afafaf"/>
<circle cx="305.5" cy="329.5" r="2.75" fill="#afafaf"/>
<circle cx="354.5" cy="326.3" r="2.75" fill="#afafaf"/>
<circle cx="403.5" cy="318.1" r="2.75" fill="#afafaf"/>
<circle cx="452.4" cy="298.5" r="2.75" fill="#afafaf"/>
<circle cx="501.4" cy="282.3" r="2.75" fill="#afafaf"/>
<circle cx="550.4" cy="275.5" r="2.75" fill="#afafaf"/>
<circle cx="599.4" cy="270.8" r="2.75" fill="#afafaf"/>
<circle cx="648.4" cy="265.4" r="2.75" fill="#afafaf"/>
<circle cx="697.4" cy="254.3" r="2.75" fill="#afafaf"/>
<circle cx="746.4" cy="250.9" r="2.75" fill="#afafaf"/>
<circle cx="795.4" cy="243.4" r="2.75" fill="#afafaf"/>
<circle cx="60.5" cy="353.6" r="2.75" fill="#afafaf"/>
<circle cx="109.5" cy="349.6" r="2.75" fill="#afafaf"/>
<circle cx="158.5" cy="341.4" r="2.75" fill="#afafaf"/>
<circle cx="207.5" cy="335.4" r="2.75" fill="#afafaf"/>
<circle cx="256.5" cy="333.5" r="2.75" fill="#afafaf"/>
<circle cx="305.5" cy="331.0" r="2.75" fill="#afafaf"/>
<circle cx="354.5" cy="327.9" r="2.75" fill="#afafaf"/>
<circle cx="403.5" cy="327.9" r="2.75" fill="#afafaf"/>
<circle cx="452.4" cy="322.2" r="2.75" fill="#afafaf"/>
<circle cx="501.4" cy="315.4" r="2.75" fill="#afafaf"/>
<circle cx="550.4" cy="310.4" r="2.75" fill="#afafaf"/>
<circle cx="599.4" cy="309.1" r="2.75" fill="#afafaf"/>
<circle cx="648.4" cy="302.0" r="2.75" fill="#afafaf"/>
<circle cx="697.4" cy="295.7" r="2.75" fill="#afafaf"/>
<circle cx="746.4" cy="291.0" r="2.75" fill="#afafaf"/>
<circle cx="795.4" cy="288.8" r="2.75" fill="#afafaf"/>
<circle cx="60.5" cy="359.1" r="2.75" fill="#afafaf"/>
<circle cx="109.5" cy="357.0" r="2.75" fill="#afafaf"/>
<circle cx="158.5" cy="334.9" r="2.75" fill="#afafaf"/>
<circle cx="207.5" cy="334.1" r="2.75" fill="#afafaf"/>
<circle cx="256.5" cy="330.8" r="2.75" fill="#afafaf"/>
<circle cx="305.5" cy="328.9" r="2.75" fill="#afafaf"/>
<circle cx="354.5" cy="325.7" r="2.75" fill="#afafaf"/>
<circle cx="403.5" cy="318.9" r="2.75" fill="#afafaf"/>
<circle cx="452.4" cy="310.4" r="2.75" fill="#afafaf"/>
<circle cx="501.4" cy="291.7" r="2.75" fill="#afafaf"/>
<circle cx="550.4" cy="288.6" r="2.75" fill="#afafaf"/>
<circle cx="599.4" cy="280.4" r="2.75" fill="#afafaf"/>
<circle cx="648.4" cy="270.0" r="2.75" fill="#afafaf"/>
<circle cx="697.4" cy="263.4" r="2.75" fill="#afafaf"/>
<circle cx="746.4" cy="254.5" r="2.75" fill="#afafaf"/>
<circle cx="795.4" cy="247.1" r="2.75" fill="#afafaf"/>
<circle cx="60.5" cy="350.3" r="2.75" fill="#afafaf"/>
<circle cx="109.5" cy="345.1" r="2.75" fill="#afafaf"/>
<circle cx="158.5" cy="327.6" r="2.75" fill="#afafaf"/>
<circle cx="207.5" cy="323.5" r="2.75" fill="#afafaf"/>
<circle cx="256.5" cy="320.8" r="2.75" fill="#afafaf"/>
<circle cx="305.5" cy="318.9" r="2.75" fill="#afafaf"/>
<circle cx="354.5" cy="315.2" r="2.75" fill="#afafaf"/>
<circle cx="403.5" cy="293.5" r="2.75" fill="#afafaf"/>
<circle cx="452.4" cy="281.3" r="2.75" fill="#afafaf"/>
<circle cx="501.4" cy="273.5" r="2.75" fill="#afafaf"/>
<circle cx="550.4" cy="259.9" r="2.75" fill="#afafaf"/>
<circle cx="599.4" cy="241.1" r="2.75" fill="#afafaf"/>
<circle cx="648.4" cy="241.1" r="2.75" fill="#afafaf"/>
<circle cx="697.4" cy="224.7" r="2.75" fill="#afafaf"/>
<circle cx="746.4" cy="224.7" r="2.75" fill="#afafaf"/>
<circle cx="795.4" cy="220.3" r="2.75" fill="#afafaf"/>
<circle cx="60.5" cy="358.6" r="2.75" fill="#afafaf"/>
<circle cx="109.5" cy="353.5" r="2.75" fill="#afafaf"/>
<circle cx="158.5" cy="326.9" r="2.75" fill="#afafaf"/>
<circle cx="207.5" cy="324.3" r="2.75" fill="#afafaf"/>
<circle cx="256.5" cy="324.3" r="2.75" fill="#afafaf"/>
<circle cx="305.5" cy="323.0" r="2.75" fill="#afafaf"/>
<circle cx="354.5" cy="318.4" r="2.75" fill="#afafaf"/>
<circle cx="403.5" cy="304.2" r="2.75" fill="#afafaf"/>
<circle cx="452.4" cy="296.1" r="2.75" fill="#afafaf"/>
<circle cx="501.4" cy="286.6" r="2.75" fill="#afafaf"/>
<circle cx="550.4" cy="285.6" r="2.75" fill="#afafaf"/>
<circle cx="599.4" cy="272.2" r="2.75" fill="#afafaf"/>
<circle cx="648.4" cy="269.0" r="2.75" fill="#afafaf"/>
<circle cx="697.4" cy="260.2" r="2.75" fill="#afafaf"/>
<circle cx="746.4" cy="246.5" r="2.75" fill="#afafaf"/>
<circle cx="795.4" cy="240.6" r="2.75" fill="#afafaf"/>
<circle cx="60.5" cy="356.0" r="2.75" fill="#afafaf"/>
<circle cx="109.5" cy="350.1" r="2.75" fill="#afafaf"/>
<circle cx="158.5" cy="336.5" r="2.75" fill="#afafaf"/>
<circle cx="207.5" cy="336.5" r="2.75" fill="#afafaf"/>
<circle cx="256.5" cy="335.0" r="2.75" fill="#afafaf"/>
<circle cx="305.5" cy="334.1" r="2.75" fill="#afafaf"/>
<circle cx="354.5" cy="334.1" r="2.75" fill="#afafaf"/>
<circle cx="403.5" cy="334.1" r="2.75" fill="#afafaf"/>
<circle cx="452.4" cy="326.8" r="2.75" fill="#afafaf"/>
<circle cx="501.4" cy="316.7" r="2.75" fill="#afafaf"/>
<circle cx="550.4" cy="314.9" r="2.75" fill="#afafaf"/>
<circle cx="599.4" cy="312.3" r="2.75" fill="#afafaf"/>
<circle cx="648.4" cy="307.7" r="2.75" fill="#afafaf"/>
<circle cx="697.4" cy="304.8" r="2.75" fill="#afafaf"/>
<circle cx="746.4" cy="302.0" r="2.75" fill="#afafaf"/>
<circle cx="795.4" cy="297.2" r="2.75" fill="#afafaf"/>
<circle cx="60.5" cy="344.0" r="2.75" fill="#afafaf"/>
<circle cx="109.5" cy="340.5" r="2.75" fill="#afafaf"/>
<circle cx="158.5" cy="323.6" r="2.75" fill="#afafaf"/>
<circle cx="207.5" cy="319.3" r="2.75" fill="#afafaf"/>
<circle cx="256.5" cy="316.5" r="2.75" fill="#afafaf"/>
<circle cx="305.5" cy="315.1" r="2.75" fill="#afafaf"/>
<circle cx="354.5" cy="308.8" r="2.75" fill="#afafaf"/>
<circle cx="403.5" cy="298.2" r="2.75" fill="#afafaf"/>
<circle cx="452.4" cy="276.5" r="2.75" fill="#afafaf"/>
<circle cx="501.4" cy="271.6" r="2.75" fill="#afafaf"/>
<circle cx="550.4" cy="255.1" r="2.75" fill="#afafaf"/>
<circle cx="599.4" cy="245.9" r="2.75" fill="#afafaf"/>
<circle cx="648.4" cy="245.9" r="2.75" fill="#afafaf"/>
<circle cx="697.4" cy="245.9" r="2.75" fill="#afafaf"/>
<circle cx="746.4" cy="236.4" r="2.75" fill="#afafaf"/>
<circle cx="795.4" cy="231.1" r="2.75" fill="#afafaf"/>
<circle cx="60.5" cy="362.9" r="2.75" fill="#afafaf"/>
<circle cx="109.5" cy="361.1" r="2.75" fill="#afafaf"/>
<circle cx="158.5" cy="351.6" r="2.75" fill="#afafaf"/>
<circle cx="207.5" cy="348.8" r="2.75" fill="#afafaf"/>
<circle cx="256.5" cy="345.4" r="2.75" fill="#afafaf"/>
<circle cx="305.5" cy="343.8" r="2.75" fill="#afafaf"/>
<circle cx="354.5" cy="334.4" r="2.75" fill="#afafaf"/>
<circle cx="403.5" cy="324.7" r="2.75" fill="#afafaf"/>
<circle cx="452.4" cy="311.5" r="2.75" fill="#afafaf"/>
<circle cx="501.4" cy="290.5" r="2.75" fill="#afafaf"/>
<circle cx="550.4" cy="280.0" r="2.75" fill="#afafaf"/>
<circle cx="599.4" cy="266.1" r="2.75" fill="#afafaf"/>
<circle cx="648.4" cy="261.8" r="2.75" fill="#afafaf"/>
<circle cx="697.4" cy="256.7" r="2.75" fill="#afafaf"/>
<circle cx="746.4" cy="243.6" r="2.75" fill="#afafaf"/>
<circle cx="795.4" cy="235.8" r="2.75" fill="#afafaf"/>
<circle cx="60.5" cy="354.7" r="2.75" fill="#afafaf"/>
<circle cx="109.5" cy="348.9" r="2.75" fill="#afafaf"/>
<circle cx="158.5" cy="331.8" r="2.75" fill="#afafaf"/>
<circle cx="207.5" cy="329.3" r="2.75" fill="#afafaf"/>
<circle cx="256.5" cy="327.0" r="2.75" fill="#afafaf"/>
<circle cx="305.5" cy="325.1" r="2.75" fill="#afafaf"/>
<circle cx="354.5" cy="323.6" r="2.75" fill="#afafaf"/>
<circle cx="403.5" cy="316.2" r="2.75" fill="#afafaf"/>
<circle cx="452.4" cy="308.2" r="2.75" fill="#afafaf"/>
<circle cx="501.4" cy="281.1" r="2.75" fill="#afafaf"/>
<circle cx="550.4" cy="269.0" r="2.75" fill="#afafaf"/>
<circle cx="599.4" cy="259.4" r="2.75" fill="#afafaf"/>
<circle cx="648.4" cy="257.9" r="2.75" fill="#afafaf"/>
<circle cx="697.4" cy="245.0" r="2.75" fill="#afafaf"/>
<circle cx="746.4" cy="227.0" r="2.75" fill="#afafaf"/>
<circle cx="795.4" cy="217.0" r="2.75" fill="#afafaf"/>
<circle cx="60.5" cy="363.7" r="2.75" fill="#afafaf"/>
<circle cx="109.5" cy="361.6" r="2.75" fill="#afafaf"/>
<circle cx="158.5" cy="357.0" r="2.75" fill="#afafaf"/>
<circle cx="207.5" cy="351.2" r="2.75" fill="#afafaf"/>
<circle cx="256.5" cy="348.0" r="2.75" fill="#afafaf"/>
<circle cx="305.5" cy="345.4" r="2.75" fill="#afafaf"/>
<circle cx="354.5" cy="345.0" r="2.75" fill="#afafaf"/>
<circle cx="403.5" cy="339.0" r="2.75" fill="#afafaf"/>
<circle cx="452.4" cy="331.0" r="2.75" fill="#afafaf"/>
<circle cx="501.4" cy="322.9" r="2.75" fill="#afafaf"/>
<circle cx="550.4" cy="322.9" r="2.75" fill="#afafaf"/>
<circle cx="599.4" cy="320.0" r="2.75" fill="#afafaf"/>
<circle cx="648.4" cy="317.5" r="2.75" fill="#afafaf"/>
<circle cx="697.4" cy="316.0" r="2.75" fill="#afafaf"/>
<circle cx="746.4" cy="315.0" r="2.75" fill="#afafaf"/>
<circle cx="795.4" cy="310.2" r="2.75" fill="#afafaf"/>
<polyline points="60.5,374.9 109.5,368.6 158.5,362.4 207.5,356.2 256.5,349.9 305.5,343.7 354.5,337.4 403.5,331.2 452.4,324.9 501.4,318.7 550.4,312.5 599.4,306.2 648.4,300.0 697.4,293.7 746.4,287.5 795.4,281.3" fill="none" stroke="#1f3afa" stroke-width="2.5"/>
<polyline points="60.5,357.1 109.5,352.9 158.5,337.9 207.5,335.0 256.5,332.3 305.5,329.8 354.5,326.5 403.5,318.1 452.4,306.5 501.4,293.8 550.4,282.8 599.4,274.5 648.4,269.5 697.4,262.5 746.4,256.3 795.4,250.8" fill="none" stroke="#111" stroke-width="1.15"/>
<circle cx="60.5" cy="357.1" r="2.9" fill="#000"/>
<circle cx="109.5" cy="352.9" r="2.9" fill="#000"/>
<circle cx="158.5" cy="337.9" r="2.9" fill="#000"/>
<circle cx="207.5" cy="335.0" r="2.9" fill="#000"/>
<circle cx="256.5" cy="332.3" r="2.9" fill="#000"/>
<circle cx="305.5" cy="329.8" r="2.9" fill="#000"/>
<circle cx="354.5" cy="326.5" r="2.9" fill="#000"/>
<circle cx="403.5" cy="318.1" r="2.9" fill="#000"/>
<circle cx="452.4" cy="306.5" r="2.9" fill="#000"/>
<circle cx="501.4" cy="293.8" r="2.9" fill="#000"/>
<circle cx="550.4" cy="282.8" r="2.9" fill="#000"/>
<circle cx="599.4" cy="274.5" r="2.9" fill="#000"/>
<circle cx="648.4" cy="269.5" r="2.9" fill="#000"/>
<circle cx="697.4" cy="262.5" r="2.9" fill="#000"/>
<circle cx="746.4" cy="256.3" r="2.9" fill="#000"/>
<circle cx="795.4" cy="250.8" r="2.9" fill="#000"/>
<line x1="64.0" x2="795.4" y1="381.5" y2="381.5" stroke="#5a5a5a" stroke-opacity="0.42" stroke-width="1.4" stroke-dasharray="1.6 5.4"/>
<line x1="64.0" x2="795.4" y1="335.2" y2="335.2" stroke="#5a5a5a" stroke-opacity="0.42" stroke-width="1.4" stroke-dasharray="1.6 5.4"/>
<line x1="64.0" x2="795.4" y1="288.9" y2="288.9" stroke="#5a5a5a" stroke-opacity="0.42" stroke-width="1.4" stroke-dasharray="1.6 5.4"/>
<line x1="64.0" x2="795.4" y1="242.6" y2="242.6" stroke="#5a5a5a" stroke-opacity="0.42" stroke-width="1.4" stroke-dasharray="1.6 5.4"/>
<line x1="64.0" x2="795.4" y1="196.3" y2="196.3" stroke="#5a5a5a" stroke-opacity="0.42" stroke-width="1.4" stroke-dasharray="1.6 5.4"/>
</g>
<text transform="translate(75.4,151.2) scale(1.06,1)" font-family="'DejaVu Sans Light','DejaVu Sans','Liberation Sans',sans-serif" font-weight="200" font-size="14.0" text-anchor="start" fill="#2e2e2e" stroke="#2e2e2e" stroke-width="0.45" textLength="391.4" lengthAdjust="spacing" word-spacing="-1.26" xml:space="preserve">National  Weather  Service  Global  Forecast  System</text>
<line x1="83" x2="135" y1="166.8" y2="166.8" stroke="#b0b0b0" stroke-width="1.5"/>
<circle cx="83" cy="166.8" r="3.1" fill="#a0a0a0"/><circle cx="135.1" cy="166.8" r="3.1" fill="#a0a0a0"/>
<text transform="translate(150.1,172.2) scale(1.06,1)" font-family="'DejaVu Sans Light','DejaVu Sans','Liberation Sans',sans-serif" font-weight="200" font-size="14.0" text-anchor="start" fill="#2e2e2e" stroke="#2e2e2e" stroke-width="0.45" textLength="152.1" lengthAdjust="spacing" word-spacing="-1.26" xml:space="preserve">Ensemble  Members</text>
<rect x="360.3" y="160.3" width="52.6" height="6.7" fill="#f5c678"/>
<rect x="360.3" y="167" width="52.6" height="6.3" fill="#76ee00"/>
<line x1="360.3" x2="412.8" y1="167" y2="167" stroke="#111" stroke-width="1.2"/>
<circle cx="360.4" cy="167" r="3.2" fill="#000"/><circle cx="412.7" cy="167" r="3.2" fill="#000"/>
<text transform="translate(427.6,172.2) scale(1.06,1)" font-family="'DejaVu Sans Light','DejaVu Sans','Liberation Sans',sans-serif" font-weight="200" font-size="14.0" text-anchor="start" fill="#2e2e2e" stroke="#2e2e2e" stroke-width="0.45" textLength="141.3" lengthAdjust="spacing" word-spacing="-1.26" xml:space="preserve">Ensemble  Average</text>
<line x1="636" x2="691.7" y1="166.4" y2="166.4" stroke="#1f3afa" stroke-width="3"/>
<text transform="translate(705.1,172.2) scale(1.06,1)" font-family="'DejaVu Sans Light','DejaVu Sans','Liberation Sans',sans-serif" font-weight="200" font-size="14.0" text-anchor="start" fill="#2e2e2e" stroke="#2e2e2e" stroke-width="0.45" textLength="55.7" lengthAdjust="spacing" word-spacing="-1.26" xml:space="preserve">Normal</text>
<rect x="75.2" y="186.1" width="378.9" height="36.3" fill="#fff" stroke="#6e6e6e" stroke-width="1.5"/>
<text transform="translate(94.3,201.9) scale(1.06,1)" font-family="'DejaVu Sans Light','DejaVu Sans','Liberation Sans',sans-serif" font-weight="200" font-size="13.2" text-anchor="start" fill="#2e2e2e" stroke="#2e2e2e" stroke-width="0.45" textLength="124.9" lengthAdjust="spacing" word-spacing="-1.19" xml:space="preserve">Percent  of  Crop:</text>
<text transform="translate(81.8,216.6) scale(1.06,1)" font-family="'DejaVu Sans Light','DejaVu Sans','Liberation Sans',sans-serif" font-weight="200" font-size="13.2" text-anchor="start" fill="#2e2e2e" stroke="#2e2e2e" stroke-width="0.45" textLength="136.7" lengthAdjust="spacing" word-spacing="-1.19" xml:space="preserve">Receives  at  Least:</text>
<text transform="translate(248.1,201.9) scale(1.06,1)" font-family="'DejaVu Sans Light','DejaVu Sans','Liberation Sans',sans-serif" font-weight="200" font-size="13.2" text-anchor="start" fill="#2e2e2e" stroke="#2e2e2e" stroke-width="0.45" textLength="18.2" lengthAdjust="spacing" word-spacing="-1.19" xml:space="preserve">90</text>
<text transform="translate(240.1,216.6) scale(1.06,1)" font-family="'DejaVu Sans Light','DejaVu Sans','Liberation Sans',sans-serif" font-weight="200" font-size="13.2" text-anchor="start" fill="#2e2e2e" stroke="#2e2e2e" stroke-width="0.45" textLength="49.0" lengthAdjust="spacing" word-spacing="-1.19" xml:space="preserve">2.0  in.</text>
<text transform="translate(322.1,201.9) scale(1.06,1)" font-family="'DejaVu Sans Light','DejaVu Sans','Liberation Sans',sans-serif" font-weight="200" font-size="13.2" text-anchor="start" fill="#2e2e2e" stroke="#2e2e2e" stroke-width="0.45" textLength="18.2" lengthAdjust="spacing" word-spacing="-1.19" xml:space="preserve">50</text>
<text transform="translate(314.8,216.6) scale(1.06,1)" font-family="'DejaVu Sans Light','DejaVu Sans','Liberation Sans',sans-serif" font-weight="200" font-size="13.2" text-anchor="start" fill="#2e2e2e" stroke="#2e2e2e" stroke-width="0.45" textLength="49.2" lengthAdjust="spacing" word-spacing="-1.19" xml:space="preserve">2.8  in.</text>
<text transform="translate(399.0,201.9) scale(1.06,1)" font-family="'DejaVu Sans Light','DejaVu Sans','Liberation Sans',sans-serif" font-weight="200" font-size="13.2" text-anchor="start" fill="#2e2e2e" stroke="#2e2e2e" stroke-width="0.45" textLength="16.7" lengthAdjust="spacing" word-spacing="-1.19" xml:space="preserve">10</text>
<text transform="translate(389.5,216.6) scale(1.06,1)" font-family="'DejaVu Sans Light','DejaVu Sans','Liberation Sans',sans-serif" font-weight="200" font-size="13.2" text-anchor="start" fill="#2e2e2e" stroke="#2e2e2e" stroke-width="0.45" textLength="49.0" lengthAdjust="spacing" word-spacing="-1.19" xml:space="preserve">3.4  in.</text>
<path d="M60.5,128.3 V415.2 M795.4,128.3 V415.2" fill="none" stroke="#1c1c1c" stroke-width="2"/>
<path d="M60.5,129.3 H795.4 M60.5,414.2 H795.4" fill="none" stroke="#2c2c2c" stroke-width="1.8"/>
<line x1="54.3" x2="60.5" y1="381.5" y2="381.5" stroke="#222" stroke-width="1.5"/>
<text transform="translate(50.1,388.7) scale(0.94,1)" font-family="'Liberation Sans','DejaVu Sans',sans-serif" font-size="19" text-anchor="end" fill="#1e1e1e" stroke="#fff" stroke-width="0.22">0</text>
<line x1="54.3" x2="60.5" y1="335.2" y2="335.2" stroke="#222" stroke-width="1.5"/>
<text transform="translate(50.1,342.4) scale(0.94,1)" font-family="'Liberation Sans','DejaVu Sans',sans-serif" font-size="19" text-anchor="end" fill="#1e1e1e" stroke="#fff" stroke-width="0.22">1</text>
<line x1="54.3" x2="60.5" y1="288.9" y2="288.9" stroke="#222" stroke-width="1.5"/>
<text transform="translate(50.1,296.1) scale(0.94,1)" font-family="'Liberation Sans','DejaVu Sans',sans-serif" font-size="19" text-anchor="end" fill="#1e1e1e" stroke="#fff" stroke-width="0.22">2</text>
<line x1="54.3" x2="60.5" y1="242.6" y2="242.6" stroke="#222" stroke-width="1.5"/>
<text transform="translate(50.1,249.8) scale(0.94,1)" font-family="'Liberation Sans','DejaVu Sans',sans-serif" font-size="19" text-anchor="end" fill="#1e1e1e" stroke="#fff" stroke-width="0.22">3</text>
<line x1="54.3" x2="60.5" y1="196.3" y2="196.3" stroke="#222" stroke-width="1.5"/>
<text transform="translate(50.1,203.5) scale(0.94,1)" font-family="'Liberation Sans','DejaVu Sans',sans-serif" font-size="19" text-anchor="end" fill="#1e1e1e" stroke="#fff" stroke-width="0.22">4</text>
<line x1="54.3" x2="60.5" y1="150.0" y2="150.0" stroke="#222" stroke-width="1.5"/>
<text transform="translate(50.1,157.2) scale(0.94,1)" font-family="'Liberation Sans','DejaVu Sans',sans-serif" font-size="19" text-anchor="end" fill="#1e1e1e" stroke="#fff" stroke-width="0.22">5</text>
<line x1="60.5" x2="60.5" y1="414.2" y2="418.8" stroke="#222" stroke-width="1.5"/>
<text x="43.7" y="432.1" font-family="'Liberation Sans','DejaVu Sans',sans-serif" font-size="14.6" text-anchor="start" fill="#1a1a1a" textLength="33.6" lengthAdjust="spacingAndGlyphs" stroke="#1a1a1a" stroke-width="0.25">7MAY</text>
<line x1="158.5" x2="158.5" y1="414.2" y2="418.8" stroke="#222" stroke-width="1.5"/>
<text x="141.7" y="432.1" font-family="'Liberation Sans','DejaVu Sans',sans-serif" font-size="14.6" text-anchor="start" fill="#1a1a1a" textLength="33.6" lengthAdjust="spacingAndGlyphs" stroke="#1a1a1a" stroke-width="0.25">9MAY</text>
<line x1="256.5" x2="256.5" y1="414.2" y2="418.8" stroke="#222" stroke-width="1.5"/>
<text x="236.2" y="432.1" font-family="'Liberation Sans','DejaVu Sans',sans-serif" font-size="14.6" text-anchor="start" fill="#1a1a1a" textLength="40.6" lengthAdjust="spacingAndGlyphs" stroke="#1a1a1a" stroke-width="0.25">11MAY</text>
<line x1="354.5" x2="354.5" y1="414.2" y2="418.8" stroke="#222" stroke-width="1.5"/>
<text x="334.2" y="432.1" font-family="'Liberation Sans','DejaVu Sans',sans-serif" font-size="14.6" text-anchor="start" fill="#1a1a1a" textLength="40.6" lengthAdjust="spacingAndGlyphs" stroke="#1a1a1a" stroke-width="0.25">13MAY</text>
<line x1="452.4" x2="452.4" y1="414.2" y2="418.8" stroke="#222" stroke-width="1.5"/>
<text x="432.1" y="432.1" font-family="'Liberation Sans','DejaVu Sans',sans-serif" font-size="14.6" text-anchor="start" fill="#1a1a1a" textLength="40.6" lengthAdjust="spacingAndGlyphs" stroke="#1a1a1a" stroke-width="0.25">15MAY</text>
<line x1="550.4" x2="550.4" y1="414.2" y2="418.8" stroke="#222" stroke-width="1.5"/>
<text x="530.1" y="432.1" font-family="'Liberation Sans','DejaVu Sans',sans-serif" font-size="14.6" text-anchor="start" fill="#1a1a1a" textLength="40.6" lengthAdjust="spacingAndGlyphs" stroke="#1a1a1a" stroke-width="0.25">17MAY</text>
<line x1="648.4" x2="648.4" y1="414.2" y2="418.8" stroke="#222" stroke-width="1.5"/>
<text x="628.1" y="432.1" font-family="'Liberation Sans','DejaVu Sans',sans-serif" font-size="14.6" text-anchor="start" fill="#1a1a1a" textLength="40.6" lengthAdjust="spacingAndGlyphs" stroke="#1a1a1a" stroke-width="0.25">19MAY</text>
<line x1="746.4" x2="746.4" y1="414.2" y2="418.8" stroke="#222" stroke-width="1.5"/>
<text x="726.1" y="432.1" font-family="'Liberation Sans','DejaVu Sans',sans-serif" font-size="14.6" text-anchor="start" fill="#1a1a1a" textLength="40.6" lengthAdjust="spacingAndGlyphs" stroke="#1a1a1a" stroke-width="0.25">21MAY</text>
<text x="44.4" y="447.4" font-family="'Liberation Sans','DejaVu Sans',sans-serif" font-size="14.6" text-anchor="start" fill="#1a1a1a" textLength="32.4" lengthAdjust="spacingAndGlyphs" stroke="#1a1a1a" stroke-width="0.25">2024</text>
<text transform="translate(14.2,264) rotate(-90)" font-family="'Liberation Sans','DejaVu Sans',sans-serif" font-size="18" text-anchor="middle" fill="#333" textLength="56" lengthAdjust="spacing" stroke="#fff" stroke-width="0.2">inches</text>
<path d="M60.5,451.0 V602.8 M795.4,451.0 V602.8" fill="none" stroke="#1c1c1c" stroke-width="2"/>
<path d="M60.5,452.0 H795.4 M60.5,601.8 H795.4" fill="none" stroke="#2c2c2c" stroke-width="1.8"/>
<clipPath id="cb"><rect x="59.7" y="452.0" width="736.5" height="149.99999999999994"/></clipPath>
<g clip-path="url(#cb)">
<rect x="43.2" y="486.5" width="34.6" height="115.5" fill="#76ee00"/>
<rect x="92.2" y="580.5" width="34.6" height="21.5" fill="#76ee00"/>
<rect x="141.2" y="531.2" width="34.6" height="70.8" fill="#76ee00"/>
<rect x="190.2" y="586.8" width="34.6" height="15.2" fill="#76ee00"/>
<rect x="239.2" y="589.0" width="34.6" height="13.0" fill="#76ee00"/>
<rect x="288.2" y="592.2" width="34.6" height="9.8" fill="#76ee00"/>
<rect x="337.2" y="584.4" width="34.6" height="17.6" fill="#76ee00"/>
<rect x="386.2" y="563.0" width="34.6" height="39.0" fill="#76ee00"/>
<rect x="435.1" y="546.1" width="34.6" height="55.9" fill="#76ee00"/>
<rect x="484.1" y="542.9" width="34.6" height="59.1" fill="#76ee00"/>
<rect x="533.1" y="551.0" width="34.6" height="51.0" fill="#76ee00"/>
<rect x="582.1" y="561.7" width="34.6" height="40.3" fill="#76ee00"/>
<rect x="631.1" y="577.6" width="34.6" height="24.4" fill="#76ee00"/>
<rect x="680.1" y="569.5" width="34.6" height="32.5" fill="#76ee00"/>
<rect x="729.1" y="572.4" width="34.6" height="29.6" fill="#76ee00"/>
<rect x="778.1" y="572.2" width="34.6" height="29.8" fill="#76ee00"/>
</g>
<line x1="64.0" x2="795.4" y1="547.1" y2="547.1" stroke="#5a5a5a" stroke-opacity="0.42" stroke-width="1.4" stroke-dasharray="1.6 5.4"/>
<line x1="64.0" x2="795.4" y1="492.4" y2="492.4" stroke="#5a5a5a" stroke-opacity="0.42" stroke-width="1.4" stroke-dasharray="1.6 5.4"/>
<line x1="59.5" x2="796.4" y1="602.4" y2="602.4" stroke="#161616" stroke-width="1.2" stroke-opacity="0.55"/>
<line x1="54.3" x2="60.5" y1="601.8" y2="601.8" stroke="#222" stroke-width="1.5"/>
<text transform="translate(50.1,609.0) scale(0.94,1)" font-family="'Liberation Sans','DejaVu Sans',sans-serif" font-size="19" text-anchor="end" fill="#1e1e1e" stroke="#fff" stroke-width="0.22">0</text>
<line x1="54.3" x2="60.5" y1="547.1" y2="547.1" stroke="#222" stroke-width="1.5"/>
<text transform="translate(50.1,554.3) scale(0.94,1)" font-family="'Liberation Sans','DejaVu Sans',sans-serif" font-size="19" text-anchor="end" fill="#1e1e1e" stroke="#fff" stroke-width="0.22">0.25</text>
<line x1="54.3" x2="60.5" y1="492.4" y2="492.4" stroke="#222" stroke-width="1.5"/>
<text transform="translate(50.1,499.6) scale(0.94,1)" font-family="'Liberation Sans','DejaVu Sans',sans-serif" font-size="19" text-anchor="end" fill="#1e1e1e" stroke="#fff" stroke-width="0.22">0.5</text>
<line x1="60.5" x2="60.5" y1="601.8" y2="606.4" stroke="#222" stroke-width="1.5"/>
<text x="43.7" y="619.7" font-family="'Liberation Sans','DejaVu Sans',sans-serif" font-size="14.6" text-anchor="start" fill="#1a1a1a" textLength="33.6" lengthAdjust="spacingAndGlyphs" stroke="#1a1a1a" stroke-width="0.25">7MAY</text>
<line x1="158.5" x2="158.5" y1="601.8" y2="606.4" stroke="#222" stroke-width="1.5"/>
<text x="141.7" y="619.7" font-family="'Liberation Sans','DejaVu Sans',sans-serif" font-size="14.6" text-anchor="start" fill="#1a1a1a" textLength="33.6" lengthAdjust="spacingAndGlyphs" stroke="#1a1a1a" stroke-width="0.25">9MAY</text>
<line x1="256.5" x2="256.5" y1="601.8" y2="606.4" stroke="#222" stroke-width="1.5"/>
<text x="236.2" y="619.7" font-family="'Liberation Sans','DejaVu Sans',sans-serif" font-size="14.6" text-anchor="start" fill="#1a1a1a" textLength="40.6" lengthAdjust="spacingAndGlyphs" stroke="#1a1a1a" stroke-width="0.25">11MAY</text>
<line x1="354.5" x2="354.5" y1="601.8" y2="606.4" stroke="#222" stroke-width="1.5"/>
<text x="334.2" y="619.7" font-family="'Liberation Sans','DejaVu Sans',sans-serif" font-size="14.6" text-anchor="start" fill="#1a1a1a" textLength="40.6" lengthAdjust="spacingAndGlyphs" stroke="#1a1a1a" stroke-width="0.25">13MAY</text>
<line x1="452.4" x2="452.4" y1="601.8" y2="606.4" stroke="#222" stroke-width="1.5"/>
<text x="432.1" y="619.7" font-family="'Liberation Sans','DejaVu Sans',sans-serif" font-size="14.6" text-anchor="start" fill="#1a1a1a" textLength="40.6" lengthAdjust="spacingAndGlyphs" stroke="#1a1a1a" stroke-width="0.25">15MAY</text>
<line x1="550.4" x2="550.4" y1="601.8" y2="606.4" stroke="#222" stroke-width="1.5"/>
<text x="530.1" y="619.7" font-family="'Liberation Sans','DejaVu Sans',sans-serif" font-size="14.6" text-anchor="start" fill="#1a1a1a" textLength="40.6" lengthAdjust="spacingAndGlyphs" stroke="#1a1a1a" stroke-width="0.25">17MAY</text>
<line x1="648.4" x2="648.4" y1="601.8" y2="606.4" stroke="#222" stroke-width="1.5"/>
<text x="628.1" y="619.7" font-family="'Liberation Sans','DejaVu Sans',sans-serif" font-size="14.6" text-anchor="start" fill="#1a1a1a" textLength="40.6" lengthAdjust="spacingAndGlyphs" stroke="#1a1a1a" stroke-width="0.25">19MAY</text>
<line x1="746.4" x2="746.4" y1="601.8" y2="606.4" stroke="#222" stroke-width="1.5"/>
<text x="726.1" y="619.7" font-family="'Liberation Sans','DejaVu Sans',sans-serif" font-size="14.6" text-anchor="start" fill="#1a1a1a" textLength="40.6" lengthAdjust="spacingAndGlyphs" stroke="#1a1a1a" stroke-width="0.25">21MAY</text>
<text x="44.4" y="635.0" font-family="'Liberation Sans','DejaVu Sans',sans-serif" font-size="14.6" text-anchor="start" fill="#1a1a1a" textLength="32.4" lengthAdjust="spacingAndGlyphs" stroke="#1a1a1a" stroke-width="0.25">2024</text>
<text transform="translate(14.4,526.7) rotate(-90)" font-family="'Liberation Sans','DejaVu Sans',sans-serif" font-size="18" text-anchor="middle" fill="#222" textLength="55.3" lengthAdjust="spacing" stroke="#fff" stroke-width="0.25">inches</text>
<text transform="translate(75.4,471.4) scale(1.06,1)" font-family="'DejaVu Sans Light','DejaVu Sans','Liberation Sans',sans-serif" font-weight="200" font-size="14.0" text-anchor="start" fill="#2e2e2e" stroke="#2e2e2e" stroke-width="0.45" textLength="292.0" lengthAdjust="spacing" word-spacing="-1.26" xml:space="preserve">Ensemble  Average  Daily  Precipitation</text>
<text transform="translate(612.8,471.2) scale(1.06,1)" font-family="'DejaVu Sans Light','DejaVu Sans','Liberation Sans',sans-serif" font-weight="200" font-size="14.0" text-anchor="start" fill="#2e2e2e" stroke="#2e2e2e" stroke-width="0.45" textLength="156.3" lengthAdjust="spacing" word-spacing="-1.26" xml:space="preserve">©  World  Ag  Weather</text>
</svg>
</body></html>
